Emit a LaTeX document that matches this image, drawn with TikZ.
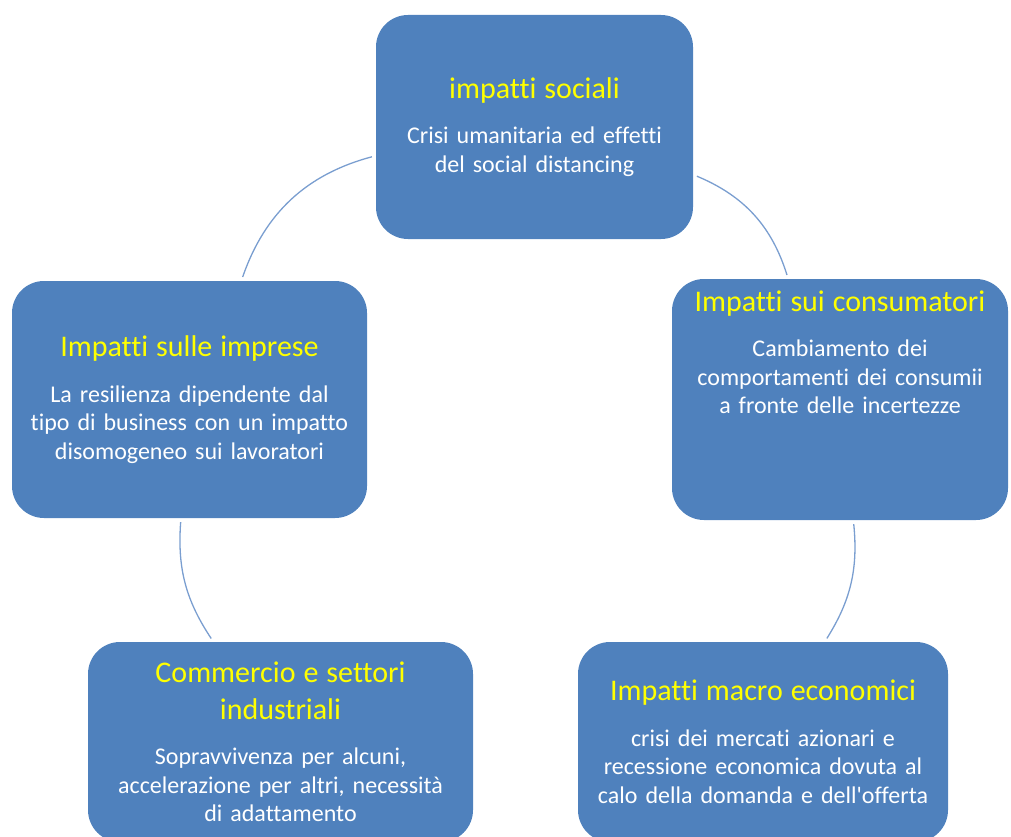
\documentclass[tikz,border=0pt]{standalone}
\usepackage{fontspec}
\setmainfont{Carlito}[Ligatures=NoCommon]
\definecolor{kastenblau}{RGB}{79,129,189}
\definecolor{bogenblau}{RGB}{122,158,208}
\definecolor{titelgelb}{RGB}{255,255,0}
\newcommand\titel[1]{{\fontsize{30}{37}\selectfont\color{titelgelb}#1\par}\vspace{17pt}}

\begin{document}
\begin{tikzpicture}[x=1pt, y=-1pt, line join=round,
    kasten/.style={fill=kastenblau, rounded corners=32pt, align=center, text=white,
      font=\fontsize{24}{28.5}\selectfont, inner sep=0pt},
    bogen/.style={draw=bogenblau, line width=1.3pt, shorten <=4pt, shorten >=4pt}]
  \useasboundingbox (0,0) rectangle (1011,837);
  % Kästen im Kreis, oben beginnend im Uhrzeigersinn
  \node[kasten, minimum width=317pt, minimum height=224pt, text width=305pt] (sozial) at (534.5,127)
    {\titel{impatti sociali}Crisi umanitaria ed effetti\\del social distancing};
  \node[kasten, minimum width=336pt, minimum height=241pt, text width=326pt] (konsum) at (840,399.5)
    {\titel{Impatti sui consumatori}Cambiamento dei\\comportamenti dei consumii\\a fronte delle incertezze\par\vspace{66pt}\null};
  \node[kasten, minimum width=370pt, minimum height=200pt, text width=360pt] (makro) at (763,742)
    {\titel{Impatti macro economici}crisi dei mercati azionari e\\recessione economica dovuta al\\calo della domanda e dell\textquotesingle offerta};
  \node[kasten, minimum width=385pt, minimum height=200pt, text width=375pt] (handel) at (280.5,742)
    {\titel{Commercio e settori\\industriali}Sopravvivenza per alcuni,\\accelerazione per altri, necessità\\di adattamento};
  \node[kasten, minimum width=355pt, minimum height=237pt, text width=345pt] (firmen) at (189.5,399.5)
    {\titel{Impatti sulle imprese}La resilienza dipendente dal\\tipo di business con un impatto\\disomogeneo sui lavoratori};
  % Kreisbögen zwischen den Kästen
  \draw[bogen] (sozial) to[bend left=25] (konsum);
  \draw[bogen] (konsum) to[bend left=19] (makro);
  \draw[bogen] (firmen) to[bend right=19] (handel);
  \draw[bogen] (sozial) to[bend right=28] (firmen);
\end{tikzpicture}
\end{document}
